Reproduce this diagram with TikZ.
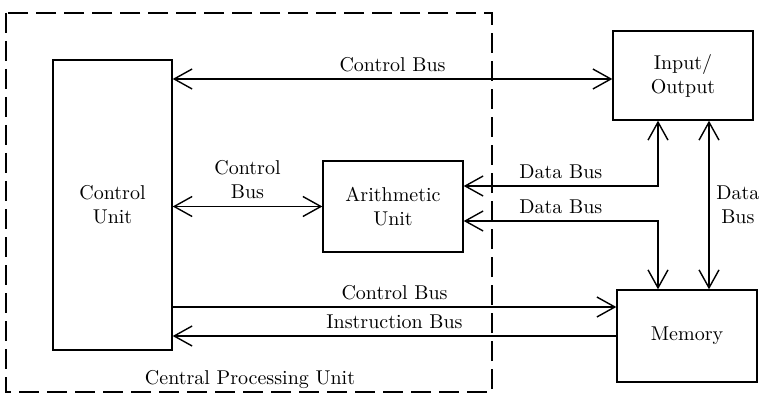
\documentclass[tikz,border=0pt]{standalone}
\usepackage{tikz}
\usetikzlibrary{arrows.meta}
\newcommand{\widthunit}{70pt}
\newcommand{\heightunit}{45.5pt}
\tikzset{
    unit/.style={draw, rectangle, line width=0.7pt, align=center, minimum width=\widthunit, minimum height=\heightunit},
    bus/.style={line width=0.7pt, arrows={Straight Barb[length=9pt, width=10pt]-Straight Barb[length=9pt, width=10pt]}},
    onebus/.style={line width=0.7pt, -{Straight Barb[length=9pt, width=10pt]}},
    cpu/.style={draw, line width=0.7pt, dash pattern=on 10pt off 4pt}
}
\begin{document}
\begin{tikzpicture}[x=0.5pt, y=-0.5pt]
        \useasboundingbox (0,0) rectangle (764,395);

        \draw[cpu] (6,13) rectangle (492,392);
        \node at (250,380) {Central Processing Unit};

        \node[unit, minimum width=59.5pt, minimum height=145pt] (control-unit) at (112.5,205) {Control\\Unit};
        \node[unit] (arith-unit) at (393,206.5) {Arithmetic\\Unit};
        \node[unit, minimum height=44.5pt] (io) at (683,75.5) {Input/\\Output};
        \node[unit, minimum height=46pt] (memory) at (687,336) {Memory};

        \coordinate (ctrl-io) at ([yshift=-1.75pt]io.west);
        \coordinate (data-io) at ([xshift=-12.5pt]io.south);
        \coordinate (data-mem) at ([xshift=-14.5pt]memory.north);
        \coordinate (io-mem) at ([xshift=13pt]io.south);
        \coordinate (ctrl-mem) at ([yshift=14.5pt]memory.west);

        \draw[bus] (control-unit.east |- ctrl-io) -- node[above]{Control Bus} (ctrl-io);
        \draw[bus] (control-unit.east |- arith-unit.west) -- node[above, align=center]{Control\\Bus} (arith-unit.west);
        \draw[bus] ([yshift=10.25pt]arith-unit.east) -| node[pos=0.25, above]{Data Bus} (data-io);
        \draw[bus] ([yshift=-7.25pt]arith-unit.east) -| node[pos=0.25, above]{Data Bus} (data-mem);
        \draw[bus] (io-mem) -- node[right, align=center]{Data\\Bus} (io-mem |- memory.north);
        \draw[onebus] (control-unit.east |- ctrl-mem) -- node[above]{Control Bus} (ctrl-mem);
        \draw[onebus] (memory.west) -- node[above]{Instruction Bus} (memory.west -| control-unit.east);

    \end{tikzpicture}
\end{document}
